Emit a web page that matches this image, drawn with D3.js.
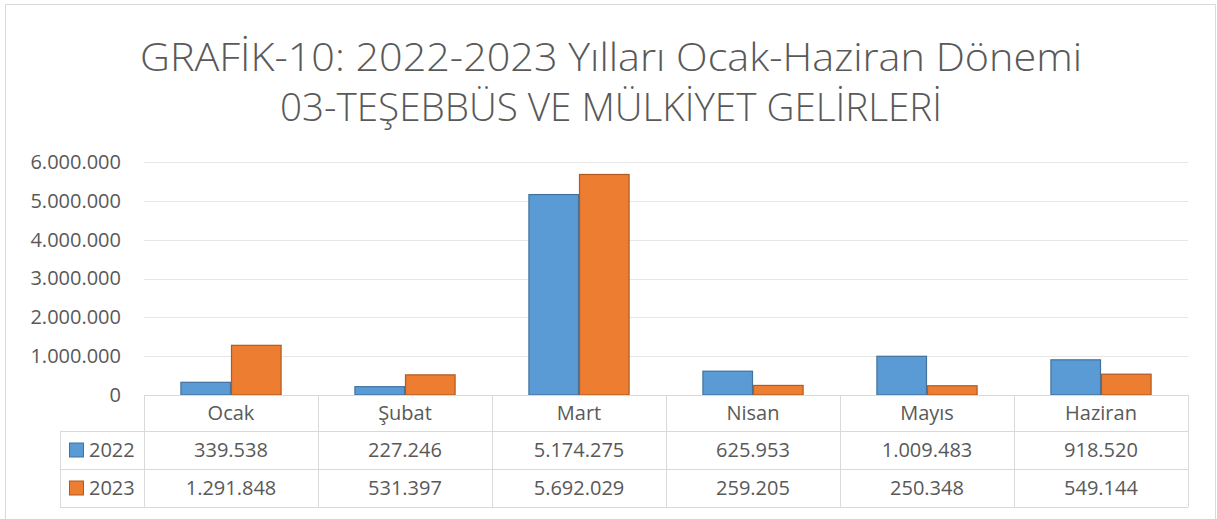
<!DOCTYPE html>
<html>
<head>
<meta charset="utf-8">
<script src="https://cdn.jsdelivr.net/npm/d3@7"></script>
<style>
  body { margin: 0; background: #fff; }
  text { font-family: "Open Sans", "Noto Sans", sans-serif; fill: #595959; }
</style>
</head>
<body>
<div class="chart"></div>
<script>
var months = ["Ocak", "Şubat", "Mart", "Nisan", "Mayıs", "Haziran"];
var years = ["2022", "2023"];
var values2022 = [339538, 227246, 5174275, 625953, 1009483, 918520];
var values2023 = [1291848, 531397, 5692029, 259205, 250348, 549144];
var yTicks = [0, 1000000, 2000000, 3000000, 4000000, 5000000, 6000000];
var colors = ["#5B9BD5", "#ED7D31"];
var strokes = ["#41719C", "#AE5A21"];

var W = 1217, H = 519;
var plot = {left: 144, right: 1188, top: 162, bottom: 395};

// turkish style number: 1.234.567
var fmt = function(v) { return d3.format(",")(v).replace(/,/g, "."); };

var svg = d3.select(".chart").append("svg")
  .attr("width", W)
  .attr("height", H);

// outer frame
svg.append("rect")
  .attr("x", 5.5).attr("y", 4.5)
  .attr("width", 1210).attr("height", 530)
  .attr("fill", "none").attr("stroke", "#D9D9D9");

// title
svg.append("text")
  .attr("x", 611).attr("y", 71)
  .attr("text-anchor", "middle")
  .attr("textLength", 942).attr("lengthAdjust", "spacingAndGlyphs")
  .style("font-size", "38px").style("font-weight", 300)
  .text("GRAFİK-10: 2022-2023 Yılları Ocak-Haziran Dönemi");
svg.append("text")
  .attr("x", 611).attr("y", 121)
  .attr("text-anchor", "middle")
  .attr("textLength", 662).attr("lengthAdjust", "spacingAndGlyphs")
  .style("font-size", "38px").style("font-weight", 300)
  .text("03-TEŞEBBÜS VE MÜLKİYET GELİRLERİ");

var x = d3.scaleBand()
  .domain(months)
  .range([plot.left, plot.right]);
var xs = d3.scaleBand()
  .domain(years)
  .range([0, x.bandwidth()])
  .paddingInner(0)
  .paddingOuter(0.72);
var y = d3.scaleLinear()
  .domain([0, 6000000])
  .range([plot.bottom, plot.top]);

// grid
svg.append("g").selectAll("line")
  .data(yTicks.slice(1))
  .enter().append("line")
  .attr("x1", plot.left).attr("x2", plot.right)
  .attr("y1", function(d) { return Math.round(y(d)) + 0.5; })
  .attr("y2", function(d) { return Math.round(y(d)) + 0.5; })
  .attr("stroke", "#E6E6E6");

// y axis labels
var yAxis = svg.append("g")
  .attr("transform", "translate(" + (plot.left - 23) + ",0)")
  .call(d3.axisLeft(y).tickValues(yTicks).tickFormat(fmt).tickSize(0).tickPadding(0));
yAxis.select(".domain").remove();
yAxis.selectAll("text")
  .style("font-size", "20px")
  .attr("fill", null);

// bars
var series = [values2022, values2023];
series.forEach(function(vals, s) {
  svg.append("g").selectAll("rect")
    .data(vals)
    .enter().append("rect")
    .attr("x", function(d, i) { return x(months[i]) + xs(years[s]) + 0.5; })
    .attr("width", xs.bandwidth() - 1)
    .attr("y", function(d) { return y(d) + 0.5; })
    .attr("height", function(d) { return y(0) - y(d) - 0.5; })
    .attr("fill", colors[s])
    .attr("stroke", strokes[s])
    .attr("stroke-width", 1.2);
});

// data table
var rowY = [395, 431, 469, 507];
var legendLeft = 60;
var t = svg.append("g").attr("stroke", "#D9D9D9").attr("fill", "none");
// horizontal lines
t.append("line").attr("x1", plot.left).attr("x2", plot.right).attr("y1", rowY[0] + 0.5).attr("y2", rowY[0] + 0.5);
rowY.slice(1).forEach(function(ry) {
  t.append("line").attr("x1", legendLeft).attr("x2", plot.right).attr("y1", ry + 0.5).attr("y2", ry + 0.5);
});
// vertical lines
months.forEach(function(m) {
  t.append("line").attr("x1", x(m) + 0.5).attr("x2", x(m) + 0.5).attr("y1", rowY[0]).attr("y2", rowY[3]);
});
t.append("line").attr("x1", plot.right + 0.5).attr("x2", plot.right + 0.5).attr("y1", rowY[0]).attr("y2", rowY[3]);
t.append("line").attr("x1", legendLeft + 0.5).attr("x2", legendLeft + 0.5).attr("y1", rowY[1]).attr("y2", rowY[3]);

// category header
svg.append("g").selectAll("text")
  .data(months)
  .enter().append("text")
  .attr("x", function(d) { return x(d) + x.bandwidth() / 2; })
  .attr("y", (rowY[0] + rowY[1]) / 2)
  .attr("dy", "0.35em")
  .attr("text-anchor", "middle")
  .style("font-size", "20px")
  .text(function(d) { return d; });

// value rows + legend
series.forEach(function(vals, s) {
  var cy = (rowY[s + 1] + rowY[s + 2]) / 2;
  svg.append("g").selectAll("text")
    .data(vals)
    .enter().append("text")
    .attr("x", function(d, i) { return x(months[i]) + x.bandwidth() / 2; })
    .attr("y", cy)
    .attr("dy", "0.35em")
    .attr("text-anchor", "middle")
    .style("font-size", "20px")
    .text(function(d) { return fmt(d); });
  svg.append("rect")
    .attr("x", 69.5).attr("y", cy - 7)
    .attr("width", 14).attr("height", 14)
    .attr("fill", colors[s]).attr("stroke", strokes[s]);
  svg.append("text")
    .attr("x", 89).attr("y", cy)
    .attr("dy", "0.35em")
    .style("font-size", "20px")
    .text(years[s]);
});
</script>
</body>
</html>
